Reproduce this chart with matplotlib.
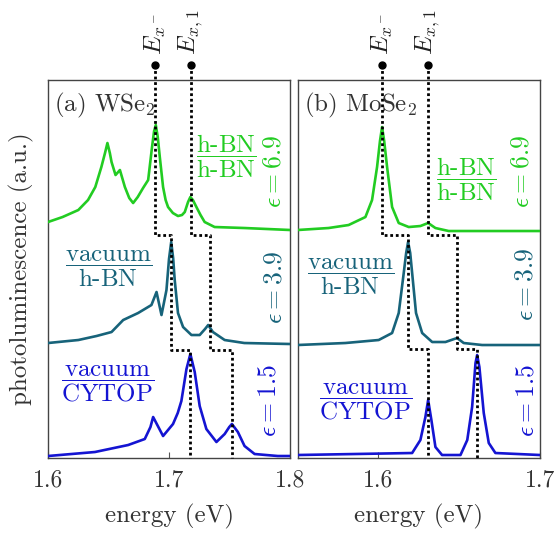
import numpy as np
import matplotlib
matplotlib.use("Agg")
import matplotlib.pyplot as plt

plt.rcParams["font.family"] = "serif"
plt.rcParams["font.serif"] = ["cmr10"]
plt.rcParams["mathtext.fontset"] = "cm"
plt.rcParams["axes.formatter.use_mathtext"] = True
plt.rcParams["axes.unicode_minus"] = False

# ---- WSe2 spectra (energy in eV, PL intensity in a.u.) ----
wse2_hbn_e = [1.600, 1.612, 1.625, 1.633, 1.639, 1.644, 1.647, 1.649, 1.651, 1.6524, 1.6557,
              1.6593, 1.6634, 1.667, 1.6702, 1.674, 1.6784, 1.6826, 1.6858, 1.6875, 1.6889,
              1.6905, 1.6922, 1.6949, 1.697, 1.699, 1.703, 1.7072, 1.7105, 1.7128, 1.7155,
              1.7174, 1.7195, 1.7224, 1.7258, 1.7292, 1.7374, 1.7621, 1.800]
wse2_hbn_i = [0.07, 0.12, 0.19, 0.29, 0.42, 0.62, 0.76, 0.86, 0.76, 0.67, 0.54,
              0.59, 0.42, 0.31, 0.26, 0.32, 0.41, 0.49, 0.82, 0.98, 1.04,
              0.92, 0.72, 0.42, 0.29, 0.22, 0.16, 0.13, 0.14, 0.17, 0.27,
              0.32, 0.29, 0.22, 0.14, 0.07, 0.02, 0.01, -0.01]

wse2_vac_e = [1.600, 1.625, 1.640, 1.6524, 1.662, 1.6743, 1.6853, 1.6895, 1.6936, 1.6977,
              1.6998, 1.7016, 1.7032, 1.7045, 1.7072, 1.7114, 1.7183, 1.7251, 1.7295, 1.7321,
              1.736, 1.7457, 1.7619, 1.800]
wse2_vac_i = [0.01, 0.04, 0.08, 0.12, 0.24, 0.31, 0.39, 0.52, 0.29, 0.54,
              0.85, 1.02, 0.86, 0.64, 0.31, 0.17, 0.09, 0.09, 0.15, 0.19,
              0.12, 0.04, 0.01, 0.0]

wse2_cytop_e = [1.600, 1.6387, 1.6661, 1.6798, 1.6845, 1.6867, 1.6949, 1.7031, 1.707, 1.710,
                1.7142, 1.7174, 1.721, 1.7251, 1.7306, 1.7389, 1.7457, 1.7495, 1.7517, 1.7566,
                1.7621, 1.7704, 1.7895, 1.800]
wse2_cytop_i = [0.01, 0.05, 0.12, 0.18, 0.30, 0.40, 0.21, 0.33, 0.44, 0.56,
                0.88, 1.03, 0.85, 0.51, 0.28, 0.15, 0.23, 0.30, 0.33, 0.25,
                0.11, 0.03, 0.01, 0.01]

# ---- MoSe2 spectra ----
mose2_hbn_e = [1.550, 1.5692, 1.5816, 1.592, 1.5961, 1.5992, 1.6010, 1.6023, 1.6036, 1.6054,
               1.6085, 1.6126, 1.6188, 1.626, 1.6308, 1.6353, 1.6435, 1.700]
mose2_hbn_i = [0.01, 0.03, 0.06, 0.14, 0.31, 0.64, 0.90, 1.04, 0.90, 0.64,
               0.24, 0.08, 0.04, 0.05, 0.08, 0.03, 0.0, 0.0]

mose2_vac_e = [1.550, 1.5796, 1.6002, 1.6085, 1.6126, 1.6157, 1.6172, 1.6184, 1.6197, 1.6209,
               1.6233, 1.6271, 1.6333, 1.6415, 1.6487, 1.6528, 1.6642, 1.700]
mose2_vac_i = [0.0, 0.02, 0.05, 0.12, 0.32, 0.72, 0.92, 1.03, 0.92, 0.72,
               0.32, 0.12, 0.03, 0.03, 0.07, 0.02, 0.0, 0.0]

mose2_cytop_e = [1.550, 1.6209, 1.626, 1.6291, 1.6308, 1.6328, 1.6353, 1.6394, 1.6508, 1.655,
                 1.658, 1.6601, 1.6611, 1.6625, 1.6652, 1.6683, 1.6724, 1.700]
mose2_cytop_i = [0.0, 0.02, 0.15, 0.38, 0.55, 0.35, 0.08, 0.0, 0.0, 0.15,
                 0.48, 0.92, 1.0, 0.88, 0.42, 0.12, 0.02, 0.0]

offsets_a = [2.29, 1.14, 0.01]
offsets_b = [2.27, 1.13, 0.03]

# peak positions for hBN/hBN, vacuum/hBN, vacuum/CYTOP
wse2_trion = [1.6885, 1.7015, 1.7172]
wse2_exc = [1.7177, 1.7333, 1.7515]
mose2_trion = [1.6025, 1.6186, 1.6308]
mose2_exc = [1.6307, 1.6487, 1.6611]
steps_a = [2.23, 1.08]
steps_b = [2.23, 1.09]

labels = [r"$\dfrac{\text{h-BN}}{\text{h-BN}}$",
          r"$\dfrac{\text{vacuum}}{\text{h-BN}}$",
          r"$\dfrac{\text{vacuum}}{\text{CYTOP}}$"]
eps_labels = [r"$\epsilon = 6.9$", r"$\epsilon = 3.9$", r"$\epsilon = 1.5$"]
colors = ["#22cc22", "#17637a", "#1414d2"]

fig, ax = plt.subplots(ncols=2, figsize=(5.57, 5.36), dpi=100)
fig.subplots_adjust(left=0.0862, right=0.9695, bottom=0.1455, top=0.8507, wspace=0.029)

panels = [
    (ax[0], [(wse2_hbn_e, wse2_hbn_i), (wse2_vac_e, wse2_vac_i), (wse2_cytop_e, wse2_cytop_i)],
     offsets_a, wse2_trion, wse2_exc, steps_a, (1.6, 1.8), [1.6, 1.7, 1.8], ["1.6", "1.7", "1.8"],
     r"(a) WSe$_2$",
     [(0.735, 0.80), (0.251, 0.50), (0.247, 0.198)],
     [(0.93, 0.759), (0.934, 0.45), (0.909, 0.153)]),
    (ax[1], [(mose2_hbn_e, mose2_hbn_i), (mose2_vac_e, mose2_vac_i), (mose2_cytop_e, mose2_cytop_i)],
     offsets_b, mose2_trion, mose2_exc, steps_b, (1.55, 1.7), [1.6, 1.7], ["1.6", "1.7"],
     r"(b) MoSe$_2$",
     [(0.698, 0.738), (0.219, 0.481), (0.281, 0.148)],
     [(0.926, 0.759), (0.942, 0.458), (0.946, 0.151)]),
]

ytop = 3.93
for a, spectra, offs, trion, exc, steps, xl, ticks, ticklabels, title, lpos, epos in panels:
    for (e, i), off, c in zip(spectra, offs, colors):
        a.plot(e, np.array(i) + off, c=c, lw=1.9, zorder=3)

    for pk, name in [(trion, r"$E_{x^-}$"), (exc, r"$E_{x,1}$")]:
        xs = [pk[0], pk[0], pk[1], pk[1], pk[2], pk[2]]
        ys = [ytop, steps[0], steps[0], steps[1], steps[1], 0]
        a.plot(xs, ys, c="k", lw=2.0, ls=(0, (1, 1.0)), clip_on=False, zorder=4)
        a.plot(pk[0], ytop, "o", c="k", ms=5, clip_on=False, zorder=5)
        a.text(pk[0], ytop + 0.1, name, rotation=90, ha="center", va="bottom",
               fontsize=18, color="#222222")

    for lab, (lx, ly), c in zip(labels, lpos, colors):
        a.text(lx, ly, lab, transform=a.transAxes, ha="center", va="center",
               fontsize=18, color=c)
    for lab, (lx, ly), c in zip(eps_labels, epos, colors):
        a.text(lx, ly, lab, transform=a.transAxes, ha="center", va="center",
               fontsize=18.5, color=c, rotation=90)

    a.text(0.025, 0.934, title, transform=a.transAxes, ha="left", va="center",
           fontsize=18, color="#333333")

    a.set_xlim(xl)
    a.set_ylim(0, 3.78)
    a.set_xticks(ticks)
    a.set_xticklabels(ticklabels)
    a.set_yticks([])
    a.tick_params(axis="x", direction="in", length=4, labelsize=17, colors="#555555",
                  labelcolor="#333333", pad=8)
    for s in a.spines.values():
        s.set_color("#444444")
        s.set_linewidth(1.0)
    a.set_xlabel("energy (eV)", fontsize=18, color="#333333", labelpad=9)

ax[0].set_ylabel("photoluminescence (a.u.)", fontsize=18, color="#333333", labelpad=10)

plt.savefig("out.png", dpi=100)
